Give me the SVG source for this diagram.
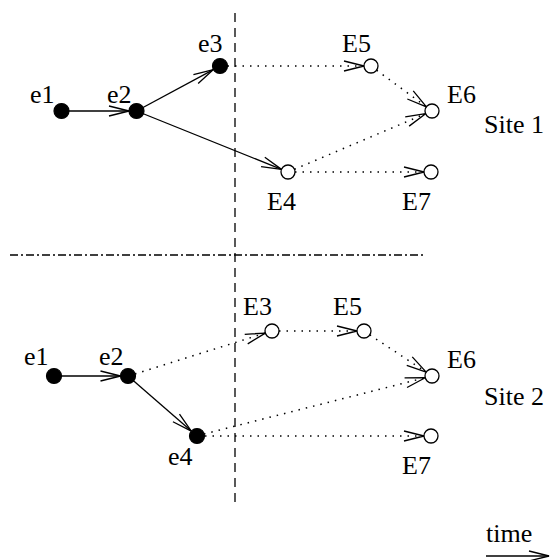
<svg xmlns="http://www.w3.org/2000/svg" width="550" height="560" viewBox="0 0 550 560">
  <style>
    .lbl { font-family: "Liberation Serif", "Times New Roman", serif; font-size: 26px; fill: #000; }
    .ev { fill: #000; stroke: #000; stroke-width: 1.2; }
    .ext { fill: #fff; stroke: #000; stroke-width: 1.3; }
    .solid { stroke: #000; stroke-width: 1.3; fill: none; marker-end: url(#arr); }
    .dot { stroke: #000; stroke-width: 1.5; fill: none; stroke-dasharray: 1.5 6; marker-end: url(#arr); }
  </style>
  <defs>
    <marker id="arr" markerUnits="userSpaceOnUse" markerWidth="24" markerHeight="14" viewBox="-22 -7 24 14" refX="0" refY="0" orient="auto">
      <path d="M-20,-5 L0,0 L-20,5" fill="none" stroke="#000" stroke-width="1.3"/>
    </marker>
  </defs>

  <!-- time cut and site separator -->
  <g id="separators" fill="none" stroke="#000" stroke-width="1.3">
    <line x1="235" y1="13" x2="235" y2="508" stroke-dasharray="9 6"/>
    <line x1="10" y1="255" x2="425" y2="255" stroke-dasharray="8 3 2 3"/>
  </g>

  <!-- connectors -->
  <g id="connectors">
    <!-- site 1 -->
    <line class="solid" x1="61.5" y1="111" x2="129" y2="111"/>
    <line class="solid" x1="136.5" y1="111" x2="213.4" y2="69.6"/>
    <line class="solid" x1="136.5" y1="111" x2="281.5" y2="169.4"/>
    <line class="dot" x1="227.5" y1="66" x2="364" y2="66"/>
    <line class="dot" x1="376.6" y1="70.2" x2="426.4" y2="106.8"/>
    <line class="dot" x1="294.4" y1="169.3" x2="425.6" y2="113.7"/>
    <line class="dot" x1="295" y1="172" x2="424" y2="172"/>
    <!-- site 2 -->
    <line class="solid" x1="54" y1="376" x2="120.5" y2="376"/>
    <line class="solid" x1="128" y1="376" x2="191.3" y2="431.1"/>
    <line class="dot" x1="135" y1="374" x2="265.3" y2="333.1"/>
    <line class="dot" x1="279" y1="331" x2="357" y2="331"/>
    <line class="dot" x1="369.8" y1="334.9" x2="426.2" y2="372.1"/>
    <line class="dot" x1="204" y1="434" x2="425.2" y2="377.7"/>
    <line class="dot" x1="205" y1="436" x2="424" y2="436"/>
    <!-- time axis -->
    <line class="solid" x1="486" y1="556" x2="549" y2="556"/>
  </g>

  <!-- site 1 nodes -->
  <g id="s1-e1"><circle class="ev" cx="61.5" cy="111" r="7.5"/><text class="lbl" x="30" y="103">e1</text></g>
  <g id="s1-e2"><circle class="ev" cx="136.5" cy="111" r="7.5"/><text class="lbl" x="107" y="103">e2</text></g>
  <g id="s1-e3"><circle class="ev" cx="220" cy="66" r="7.5"/><text class="lbl" x="198" y="52">e3</text></g>
  <g id="s1-E4"><circle class="ext" cx="288" cy="172" r="7"/><text class="lbl" x="267" y="210">E4</text></g>
  <g id="s1-E5"><circle class="ext" cx="371" cy="66" r="7"/><text class="lbl" x="342" y="52">E5</text></g>
  <g id="s1-E6"><circle class="ext" cx="432" cy="111" r="7"/><text class="lbl" x="447" y="103">E6</text></g>
  <g id="s1-E7"><circle class="ext" cx="431" cy="172" r="7"/><text class="lbl" x="402" y="210">E7</text></g>
  <g id="site1"><text class="lbl" x="484" y="133">Site 1</text></g>

  <!-- site 2 nodes -->
  <g id="s2-e1"><circle class="ev" cx="54" cy="376" r="7.5"/><text class="lbl" x="24" y="365">e1</text></g>
  <g id="s2-e2"><circle class="ev" cx="128" cy="376" r="7.5"/><text class="lbl" x="99" y="365">e2</text></g>
  <g id="s2-e4"><circle class="ev" cx="197" cy="436" r="7.5"/><text class="lbl" x="168" y="465">e4</text></g>
  <g id="s2-E3"><circle class="ext" cx="272" cy="331" r="7"/><text class="lbl" x="243" y="315">E3</text></g>
  <g id="s2-E5"><circle class="ext" cx="364" cy="331" r="7"/><text class="lbl" x="333" y="315">E5</text></g>
  <g id="s2-E6"><circle class="ext" cx="432" cy="376" r="7"/><text class="lbl" x="447" y="368">E6</text></g>
  <g id="s2-E7"><circle class="ext" cx="431" cy="436" r="7"/><text class="lbl" x="402" y="474">E7</text></g>
  <g id="site2"><text class="lbl" x="484" y="405">Site 2</text></g>

  <g id="time"><text class="lbl" x="486" y="542">time</text></g>
</svg>
